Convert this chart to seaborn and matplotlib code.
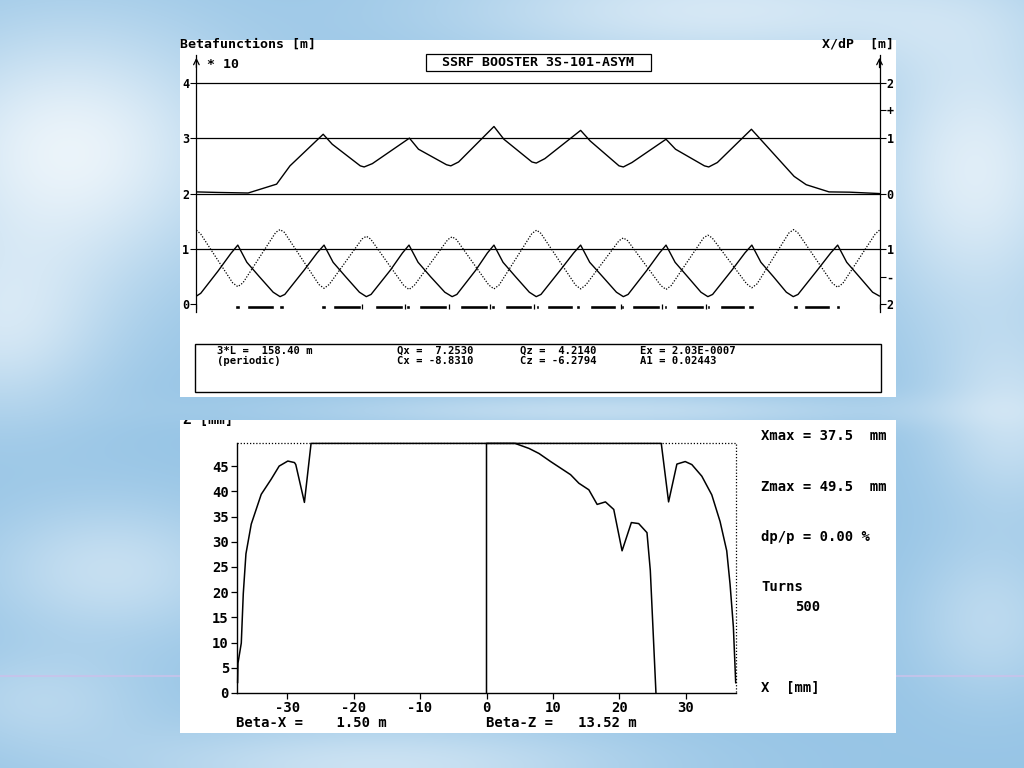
import numpy as np
import matplotlib
matplotlib.use("Agg")
import matplotlib.pyplot as plt
from matplotlib.patches import Rectangle
import seaborn as sns

W, H = 1024, 768

# --- lattice optics of the booster, s in metres -----------------------------
s_bx = [0.0, 1.0, 5.0, 8.0, 9.6, 11.7, 14.6, 17.8, 19.4,
        20.5, 25.0, 28.0, 29.6, 31.7, 34.6, 37.8, 39.4,
        40.5, 45.0, 47.8, 49.3, 51.4, 54.3, 57.6, 59.3,
        60.4, 64.8, 67.5, 69.0, 71.1, 74.0, 77.2, 78.8,
        79.9, 84.4, 87.5, 89.1, 91.2, 94.2, 97.4, 99.0,
        100.1, 104.5, 107.4, 108.9, 111.0, 113.9, 117.0, 118.6,
        119.7, 124.2, 127.2, 128.8, 130.9, 133.8, 136.8, 138.4,
        139.5, 144.0, 147.1, 148.7, 150.8, 153.7, 156.8, 158.4]
beta_x = [1.5, 2.0, 6.0, 9.2, 10.7, 7.6, 5.0, 2.2, 1.4,
          1.8, 6.2, 9.3, 10.7, 7.6, 5.0, 2.2, 1.4,
          1.8, 6.2, 9.3, 10.7, 7.6, 5.0, 2.2, 1.4,
          1.8, 6.2, 9.3, 10.7, 7.6, 5.0, 2.2, 1.4,
          1.8, 6.2, 9.3, 10.7, 7.6, 5.0, 2.2, 1.4,
          1.8, 6.2, 9.3, 10.7, 7.6, 5.0, 2.2, 1.4,
          1.8, 6.2, 9.3, 10.7, 7.6, 5.0, 2.2, 1.4,
          1.8, 6.2, 9.3, 10.7, 7.6, 5.0, 2.2, 1.5]

s_bz = [0.0, 1.0, 8.4, 9.6, 10.8, 18.4, 19.4, 20.4, 28.4, 29.6, 30.8,
        38.4, 39.4, 40.4, 48.1, 49.3, 50.5, 58.3, 59.3, 60.3, 67.8, 69.0,
        70.2, 77.8, 78.9, 79.9, 87.9, 89.1, 90.3, 98.0, 99.0, 100.0,
        107.7, 108.9, 110.1, 117.6, 118.6, 119.6, 127.6, 128.8, 130.0,
        137.4, 138.5, 139.5, 147.5, 148.7, 149.9, 157.4, 158.4]
beta_z = [13.4, 12.7, 3.9, 3.2, 3.9, 13.0, 13.5, 13.0, 3.6, 2.9, 3.6,
          11.8, 12.3, 11.8, 3.4, 2.7, 3.4, 11.7, 12.2, 11.7, 3.5, 2.8,
          3.5, 12.8, 13.4, 12.8, 3.5, 2.8, 3.5, 11.5, 12.0, 11.5,
          3.4, 2.7, 3.4, 12.0, 12.5, 12.0, 3.7, 3.0, 3.7,
          12.9, 13.5, 12.9, 3.8, 3.1, 3.8, 12.7, 13.4]

s_disp = [0.0, 5.0, 12.0, 18.6, 21.7, 29.4, 31.5, 38.0, 38.9, 40.8,
          49.4, 51.5, 58.0, 59.0, 60.8, 69.0, 71.3, 77.8, 78.8, 80.8,
          89.1, 91.3, 98.0, 99.0, 101.0, 108.9, 111.1, 117.8, 118.8, 120.8,
          128.7, 130.8, 138.6, 141.4, 146.7, 151.5, 158.4]
disp = [0.03, 0.02, 0.01, 0.17, 0.50, 1.07, 0.89, 0.50, 0.48, 0.54,
        1.00, 0.80, 0.52, 0.50, 0.57, 1.21, 0.98, 0.57, 0.55, 0.63,
        1.14, 0.95, 0.50, 0.48, 0.56, 0.98, 0.80, 0.50, 0.48, 0.56,
        1.16, 0.98, 0.31, 0.16, 0.03, 0.025, 0.0]

magnet_start = [9.0, 11.7, 19.2, 29.0, 31.7, 41.5, 48.6, 51.6, 61.2, 68.4,
                71.5, 78.8, 81.4, 88.1, 91.3, 98.5, 101.1, 108.4, 111.2,
                118.4, 121.4, 128.0, 138.4, 141.0, 148.3]
magnet_end = [10.1, 17.9, 20.2, 30.0, 38.1, 47.9, 49.5, 58.0, 67.6, 69.2,
              77.9, 79.5, 87.3, 89.0, 97.4, 99.2, 107.5, 109.1, 117.6,
              119.2, 127.2, 129.3, 139.5, 146.9, 149.2]
marker_s = [0.0, 38.3, 48.4, 58.5, 68.1, 78.2, 98.5, 108.0, 118.2, 158.4]

beta_ticks = [0, 1, 2, 3, 4]
disp_ticks = [-2, -1.5, -1, 0, 1, 1.5, 2]
disp_labels = ["2", "-", "1", "0", "1", "+", "2"]

# --- dynamic aperture, mm ---------------------------------------------------
xmax_mm = 37.5
zmax_mm = 49.5
outer_x = [-37.45, -37.4, -36.9, -36.6, -36.2, -35.4, -33.9, -32.4, -31.2,
           -29.9, -28.9, -28.7, -27.4, -26.4, 26.3, 27.4, 28.65, 29.9, 30.9,
           32.4, 33.9, 35.15, 36.15, 36.65, 37.15, 37.4, 37.5]
outer_z = [2.0, 5.9, 9.9, 19.7, 27.6, 33.5, 39.4, 42.4, 45.0,
           46.0, 45.7, 45.3, 37.8, 49.5, 49.5, 37.9, 45.4, 45.9, 45.3,
           43.0, 39.3, 34.0, 28.2, 21.6, 13.1, 5.2, 2.0]
inner_x = [0.0, 0.0, 4.3, 6.4, 7.9, 9.65, 11.15, 12.65, 13.9, 15.4, 16.65,
           17.9, 19.15, 20.4, 21.8, 22.9, 24.15, 24.65, 25.5]
inner_z = [0.0, 49.5, 49.5, 48.5, 47.5, 45.9, 44.6, 43.3, 41.6, 40.3, 37.4,
           37.9, 36.4, 28.2, 33.8, 33.6, 31.8, 24.3, 0.0]
da_xticks = [-30, -20, -10, 0, 10, 20, 30]
da_zticks = [0, 5, 10, 15, 20, 25, 30, 35, 40, 45]


def box(x0, y0, x1, y1):
    return [x0 / W, 1 - y1 / H, (x1 - x0) / W, (y1 - y0) / H]


sns.set_style("white")
plt.rcParams["font.family"] = ["DejaVu Sans Mono"]
plt.rcParams["font.weight"] = "bold"
plt.rcParams["axes.unicode_minus"] = False
plt.rcParams["text.color"] = "black"
plt.rcParams["xtick.color"] = "black"
plt.rcParams["ytick.color"] = "black"

fig = plt.figure(figsize=(W / 100, H / 100), dpi=100)

# slide background: blue sky with soft clouds
bg = fig.add_axes([0, 0, 1, 1])
bg.set_xlim(0, W)
bg.set_ylim(H, 0)
bg.axis("off")
yy, xx = np.mgrid[0:H, 0:W]
base = np.array([0.59, 0.77, 0.90])
clouds = [(70, 150, 170, 130, 0.8), (0, 330, 110, 90, 0.5), (110, 570, 130, 70, 0.45),
          (40, 700, 110, 50, 0.3), (975, 170, 110, 150, 0.7), (1010, 420, 80, 90, 0.45),
          (990, 620, 80, 80, 0.35), (720, 10, 280, 60, 0.6), (380, 765, 260, 45, 0.5),
          (600, 410, 300, 18, 0.4)]
w = np.zeros((H, W))
for cx, cy, rx, ry, a in clouds:
    w += a * np.exp(-((xx - cx) / rx) ** 2 - ((yy - cy) / ry) ** 2)
w = np.clip(w, 0, 0.85)[..., None]
bg.imshow(base * (1 - w) + w, extent=(0, W, H, 0), aspect="auto", zorder=0)
bg.plot([0, W], [676, 676], color="#c9c2ea", lw=1.2, zorder=1)

bg.add_patch(Rectangle((180, 40), 716, 357, fc="white", ec="none", zorder=2))
lower_panel = Rectangle((180, 420), 716, 313, fc="white", ec="none", zorder=2)
bg.add_patch(lower_panel)

txt = dict(fontsize=9.5, fontweight="bold", va="center", zorder=3)
bg.text(180, 44, "Betafunctions [m]", ha="left", **txt)
bg.text(894, 44, "X/dP  [m]", ha="right", **txt)
bg.text(207, 64, "* 10", ha="left", **txt)
bg.add_patch(Rectangle((426, 54), 225, 17, fc="white", ec="black", lw=0.9, zorder=3))
bg.text(538.5, 62.5, "SSRF BOOSTER 3S-101-ASYM", ha="center", **txt)

bg.add_patch(Rectangle((195, 344), 686, 48, fc="none", ec="black", lw=1.0, zorder=3))
info = dict(fontsize=7.6, fontweight="bold", va="center", ha="left", zorder=3)
bg.text(217, 350.5, "3*L =  158.40 m", **info)
bg.text(217, 361, "(periodic)", **info)
bg.text(397, 350.5, "Qx =  7.2530", **info)
bg.text(397, 361, "Cx = -8.8310", **info)
bg.text(520, 350.5, "Qz =  4.2140", **info)
bg.text(520, 361, "Cz = -6.2794", **info)
bg.text(640, 350.5, "Ex = 2.03E-0007", **info)
bg.text(640, 361, "A1 = 0.02443", **info)

side = dict(fontsize=10, fontweight="bold", va="center", ha="left", zorder=3)
zlab = bg.text(183, 420.5, "Z [mm]", clip_on=True, **side)
zlab.set_clip_path(lower_panel)
bg.text(761, 436, f"Xmax = {xmax_mm:.1f}  mm", **side)
bg.text(761, 487, f"Zmax = {zmax_mm:.1f}  mm", **side)
bg.text(761, 537, "dp/p = 0.00 %", **side)
bg.text(761, 587, "Turns", **side)
bg.text(795, 607, "500", **side)
bg.text(761, 688, "X  [mm]", **side)
bg.text(236, 723, f"Beta-X =    {beta_x[0]:.2f} m", **side)
bg.text(486, 723, "Beta-Z =   13.52 m", **side)

# --- optics plot ------------------------------------------------------------
ax1 = fig.add_axes(box(196.4, 55, 879.5, 312))
ax1.set_facecolor("none")
ax1.set_xlim(0, 158.4)
ax1.set_ylim(-0.137, 4.50)
for y in [1, 2, 3, 4]:
    ax1.axhline(y, color="black", lw=0.9, zorder=1)
sns.lineplot(x=s_bx, y=np.array(beta_x) / 10, ax=ax1, color="black", lw=1.0,
             estimator=None, sort=False)
sns.lineplot(x=s_bz, y=np.array(beta_z) / 10, ax=ax1, color="black", lw=0.9,
             linestyle=(0, (1, 1.3)), estimator=None, sort=False)
ax1.broken_barh([(a, b - a) for a, b in zip(magnet_start, magnet_end)],
                (-0.075, 0.065), facecolors="black")
ax1.vlines(marker_s, -0.09, 0.01, color="black", lw=0.9)
ax1.set_xticks([])
ax1.set_yticks(beta_ticks)
ax1.set_yticklabels([str(t) for t in beta_ticks])
ax1.tick_params(axis="y", direction="out", length=4, width=0.8, pad=1,
                labelsize=8.5, left=True)
for side_name in ["top", "right", "bottom"]:
    ax1.spines[side_name].set_visible(False)
ax1.spines["left"].set_linewidth(0.9)
ax1.spines["left"].set_color("black")
ax1.annotate("", xy=(0, 1.0), xytext=(0, 0.94), xycoords="axes fraction",
             arrowprops=dict(arrowstyle="->", lw=0.9, color="black"))
ax1.annotate("", xy=(1, 1.0), xytext=(1, 0.94), xycoords="axes fraction",
             arrowprops=dict(arrowstyle="->", lw=0.9, color="black"))

ax2 = ax1.twinx()
ax2.set_facecolor("none")
ax2.set_ylim(-2.137, 2.50)
sns.lineplot(x=s_disp, y=disp, ax=ax2, color="black", lw=1.0,
             estimator=None, sort=False)
ax2.set_yticks(disp_ticks)
ax2.set_yticklabels(disp_labels)
ax2.tick_params(axis="y", direction="out", length=4, width=0.8, pad=1,
                labelsize=8.5, right=True)
for side_name in ["top", "left", "bottom"]:
    ax2.spines[side_name].set_visible(False)
ax2.spines["right"].set_linewidth(0.9)
ax2.spines["right"].set_color("black")
ax2.set_ylabel("")

# --- dynamic aperture plot --------------------------------------------------
ax3 = fig.add_axes(box(237.3, 443.4, 735.7, 693))
ax3.set_facecolor("none")
ax3.set_xlim(-xmax_mm, xmax_mm)
ax3.set_ylim(0, zmax_mm)
ax3.plot([-xmax_mm, xmax_mm, xmax_mm], [zmax_mm, zmax_mm, 0], color="black",
         lw=0.9, linestyle=(0, (1, 1.5)), clip_on=False)
sns.lineplot(x=outer_x, y=outer_z, ax=ax3, color="black", lw=1.1,
             estimator=None, sort=False, clip_on=False)
sns.lineplot(x=inner_x, y=inner_z, ax=ax3, color="black", lw=1.1,
             estimator=None, sort=False, clip_on=False)
ax3.set_xticks(da_xticks)
ax3.set_yticks(da_zticks)
ax3.tick_params(direction="out", length=4, width=0.9, pad=2, labelsize=10,
                left=True, bottom=True)
for lab in ax3.get_xticklabels() + ax3.get_yticklabels():
    lab.set_fontweight("bold")
for side_name in ["top", "right"]:
    ax3.spines[side_name].set_visible(False)
for side_name in ["left", "bottom"]:
    ax3.spines[side_name].set_linewidth(1.0)
    ax3.spines[side_name].set_color("black")

fig.savefig("out.png", dpi=100)
